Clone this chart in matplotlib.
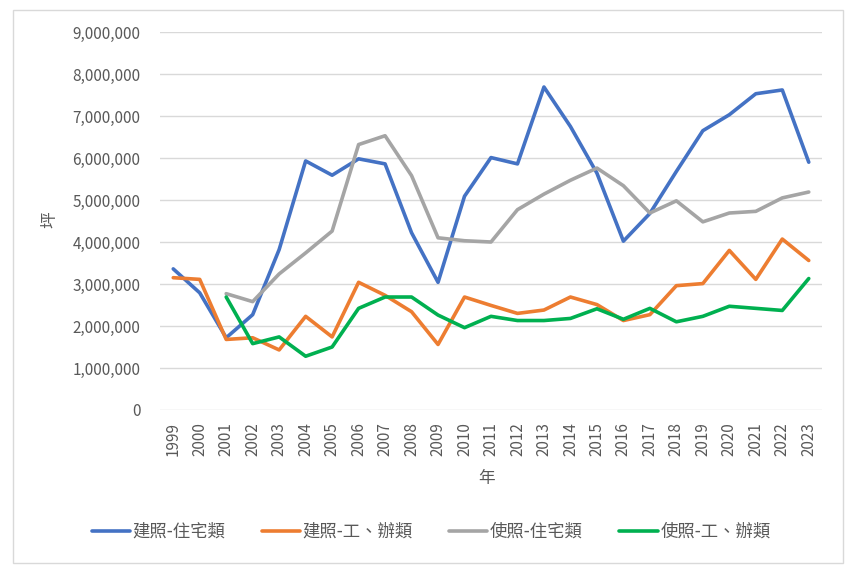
import matplotlib
matplotlib.use("Agg")
import matplotlib.pyplot as plt
from matplotlib.ticker import FuncFormatter, MultipleLocator
from matplotlib.patches import Rectangle

plt.rcParams['font.family'] = ['Noto Sans CJK TC', 'DejaVu Sans']

years = [str(y) for y in range(1999, 2024)]
build_res = [3.36, 2.79, 1.72, 2.27, 3.82, 5.93, 5.59, 5.98, 5.86, 4.22, 3.04, 5.09, 6.01,
             5.86, 7.69, 6.75, 5.64, 4.02, 4.68, 5.68, 6.65, 7.03, 7.53, 7.62, 5.90]
build_off = [3.15, 3.11, 1.68, 1.72, 1.43, 2.23, 1.74, 3.04, 2.73, 2.34, 1.56, 2.69, 2.49,
             2.30, 2.38, 2.69, 2.51, 2.13, 2.27, 2.96, 3.01, 3.80, 3.11, 4.07, 3.56]
use_res = [None, None, 2.77, 2.58, 3.24, 3.74, 4.26, 6.32, 6.53, 5.58, 4.10, 4.03, 4.00,
           4.77, 5.14, 5.47, 5.76, 5.34, 4.69, 4.98, 4.48, 4.69, 4.73, 5.05, 5.19]
use_off = [None, None, 2.69, 1.58, 1.74, 1.28, 1.50, 2.42, 2.69, 2.69, 2.26, 1.96, 2.23,
           2.13, 2.13, 2.18, 2.41, 2.16, 2.42, 2.10, 2.23, 2.47, 2.42, 2.37, 3.13]
series_names = ['建照-住宅類', '建照-工、辦類', '使照-住宅類', '使照-工、辦類']
colors = ['#4472C4', '#ED7D31', '#A5A5A5', '#00B050']

def to_vals(lst):
    return [float('nan') if v is None else v * 1_000_000 for v in lst]

fig = plt.figure(figsize=(8.55, 5.73), dpi=100)
ax = fig.add_axes([160/855, 1-410/573, (822-160)/855, (410-32)/573])

x = list(range(len(years)))
for data, name, c in zip([build_res, build_off, use_res, use_off], series_names, colors):
    ax.plot(x, to_vals(data), color=c, lw=2.6, label=name, solid_capstyle='round', solid_joinstyle='round')

ax.set_xlim(-0.5, len(years) - 0.5)
ax.set_ylim(0, 9_000_000)
ax.yaxis.set_major_locator(MultipleLocator(1_000_000))
ax.yaxis.set_major_formatter(FuncFormatter(lambda v, p: f"{int(v):,}"))
ax.set_xticks(x)
ax.set_xticklabels(years, rotation=90)
ax.tick_params(axis='both', length=0, labelsize=11, labelcolor='#595959')
ax.tick_params(axis='y', pad=14)
ax.tick_params(axis='x', pad=9)
for s in ax.spines.values():
    s.set_visible(False)
ax.grid(axis='y', color='#D9D9D9', lw=1)
ax.set_axisbelow(True)

fig.text(487/855, 1-478/573, '年', ha='center', va='center', fontsize=12, color='#595959')
fig.text(50/855, 1-220/573, '坪', ha='center', va='center', rotation=90, fontsize=12, color='#595959')

fig.legend(loc='center', bbox_to_anchor=(431/855, 1-532/573), ncol=4, frameon=False,
           fontsize=12.5, labelcolor='#595959', handlelength=2.2, handletextpad=0.15,
           columnspacing=2.1)

fig.patches.append(Rectangle((13/855, 1-563/573), (843-13)/855, (563-10)/573,
                             transform=fig.transFigure, fill=False, edgecolor='#D9D9D9', lw=1))

fig.savefig('out.png', dpi=100)
